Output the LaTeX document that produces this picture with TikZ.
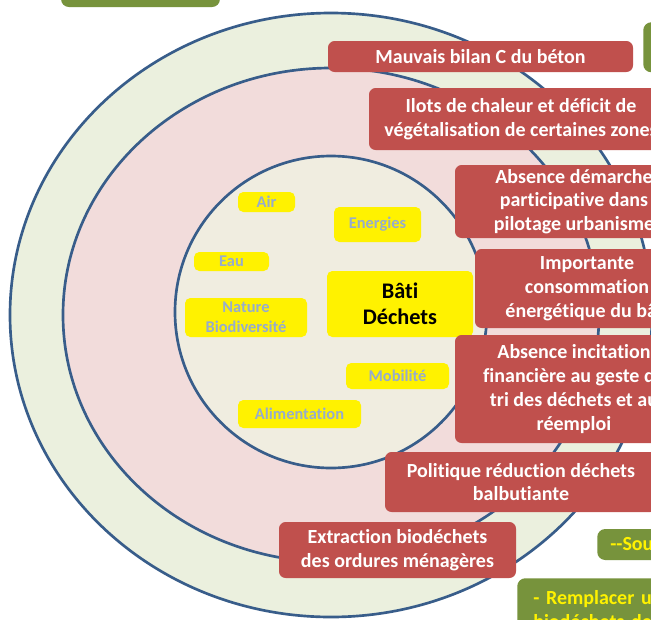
\documentclass[tikz,border=0pt]{standalone}
\usepackage{fontspec}
\setmainfont{Carlito}[Ligatures=NoCommon]
\usepackage{tikz}
\usetikzlibrary{positioning}
\usepackage{xcolor}

\definecolor{ringblue}{RGB}{56,93,138}
\definecolor{outerfill}{RGB}{235,240,222}
\definecolor{middlefill}{RGB}{242,220,219}
\definecolor{innerfill}{RGB}{240,237,224}
\definecolor{boxred}{RGB}{192,80,77}
\definecolor{actgreen}{RGB}{119,147,60}
\definecolor{themegrey}{RGB}{150,172,205}

\tikzset{
  ring/.style={draw=ringblue, line width=2pt},
  probbox/.style={fill=boxred, rounded corners=5pt, text=white, inner sep=0pt,
    align=center, font=\bfseries\fontsize{15}{17.8}\selectfont},
  themebox/.style={fill=yellow, rounded corners=4pt, text=themegrey, inner sep=0pt,
    align=center, font=\bfseries\fontsize{12.3}{15}\selectfont},
  actbox/.style={fill=actgreen, rounded corners=6pt, text=yellow, inner sep=0pt,
    font=\bfseries\fontsize{15}{17.8}\selectfont}
}

\begin{document}
\begin{tikzpicture}[x=0.75pt, y=-0.75pt]
\useasboundingbox (0,0) rectangle (651,619);
\clip (0,0) rectangle (651,619);

% Three rings around the centre
\fill[white] (0,0) rectangle (651,619);
\draw[ring, fill=outerfill] (331,315) ellipse [x radius=321, y radius=302];
\draw[ring, fill=middlefill] (331,315) ellipse [x radius=268, y radius=247];
\draw[ring, fill=innerfill] (331,312) circle [radius=156];

% Themes in the inner circle
\foreach \name/\x/\y/\w/\h/\txt in {air/266.5/202/57/20/Air,
    energies/377.5/224.5/87/35/Energies,
    eau/231.5/261.5/75/19/Eau,
    nature/246/317.5/122/39/{Nature\\Biodiversité},
    mobilite/397.5/376/103/26/Mobilité,
    alim/299.5/414/123/28/Alimentation} {
  \node[themebox, minimum width=\w*0.75pt, minimum height=\h*0.75pt] (\name) at (\x,\y) {\txt};
}
\node[themebox, text=black, font=\bfseries\fontsize{16.7}{19.5}\selectfont,
  minimum width=146*0.75pt, minimum height=66*0.75pt] (bati) at (400,304) {Bâti\\Déchets};

% Problems (red boxes)
\foreach \name/\x/\y/\w/\h/\txt in {p1/480.5/56.5/305/31/Mauvais bilan C du béton,
    p2/521/119/304/62/{Ilots de chaleur et déficit de\\végétalisation de certaines zones},
    p3/574/201.5/238/73/{Absence démarche\\participative dans\\pilotage urbanisme},
    p4/587/288.5/224/79/{Importante\\consommation\\énergétique du bâti},
    p5/574/389/238/108/{Absence incitation\\financière au geste de\\tri des déchets et au\\réemploi},
    p6/521/482/272/60/{Politique réduction déchets\\balbutiante},
    p7/397.5/550/237/56/{Extraction biodéchets\\des ordures ménagères}} {
  \node[probbox, minimum width=\w*0.75pt, minimum height=\h*0.75pt] (\name) at (\x,\y) {\txt};
}

% Actions (green boxes)
\node[actbox, minimum width=159*0.75pt, minimum height=40*0.75pt] (a1) at (140.5,-13) {};
\node[actbox, anchor=north west, minimum width=60*0.75pt, minimum height=50*0.75pt] (a2) at (643,22) {};
\node[actbox, anchor=west, minimum height=31*0.75pt, inner xsep=13*0.75pt,
  text width=60*0.75pt, align=left] (a3) at (597,544.5) {-{}-Sou};
\node[actbox, anchor=north west, inner xsep=16*0.75pt, inner ysep=12*0.75pt,
  text width=200*0.75pt, align=left] (a4) at (517,578) {- Remplacer un\\biodéchets de};

\end{tikzpicture}
\end{document}
